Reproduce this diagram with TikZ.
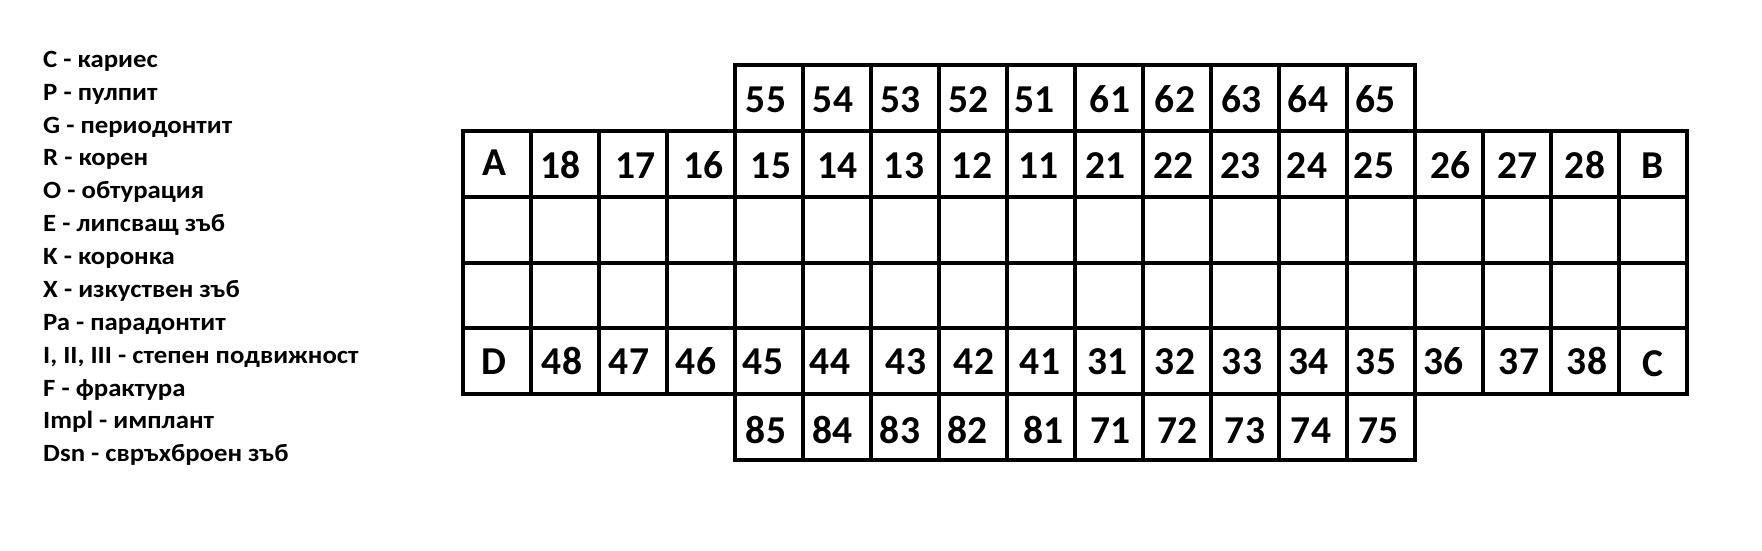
\documentclass[tikz,border=0pt]{standalone}
\usepackage{fontspec}
\setmainfont{Carlito}
\begin{document}
\begin{tikzpicture}[x=1pt,y=-1pt,
  cell/.style={draw=black, line width=4pt},
  num/.style={font=\fontsize{39.5}{40}\selectfont\bfseries, inner sep=0pt, anchor=base},
  leg/.style={font=\fontsize{24.8}{26}\selectfont\bfseries, inner sep=0pt, anchor=base west}]
\useasboundingbox (0,0) rectangle (1762,550);
% legend
\foreach \i/\t in {0/{C - кариес},1/{P - пулпит},2/{G - периодонтит},3/{R - корен},
  4/{O - обтурация},5/{E - липсващ зъб},6/{K - коронка},7/{X - изкуствен зъб},
  8/{Pa - парадонтит},9/{I, II, III - степен подвижност},10/{F - фрактура},
  11/{Impl - имплант},12/{Dsn - свръхброен зъб}}
  \node[leg] (leg\i) at (43, {67.3+32.87*\i}) {\scalebox{1.08}[1]{\t}};
% cells
\foreach \k in {4,...,13} \draw[cell] ({463+68*\k}, 65) rectangle ++(68,65.833);
\foreach \r in {1,...,4}
  \foreach \k in {0,...,17} \draw[cell] ({463+68*\k}, {65+65.833*\r}) rectangle ++(68,65.833);
\foreach \k in {4,...,13} \draw[cell] ({463+68*\k}, {65+65.833*5}) rectangle ++(68,65.833);
% upper row
\foreach \k/\t/\o in {4/55/-3,5/54/-4,6/53/-4.5,7/52/-4.7,8/51/-6.5,9/61/1,10/62/-2,11/63/-3.3,12/64/-5,13/65/-5.5}
  \node[num] (n\t) at ({463+68*\k+34+\o}, 112.7) {\t};
% row 1
\node[num] (nA) at ({463+34-3}, 175) {A};
\foreach \k/\t/\o in {1/18/-4.5,2/17/2.7,3/16/2.5,4/15/2,5/14/0.7,6/13/-1,7/12/-1,8/11/-2.5,9/21/-3.5,10/22/-3.3,11/23/-4.7,12/24/-6,13/25/-7,14/26/1.5,15/27/0.5,16/28/0}
  \node[num] (n\t) at ({463+68*\k+34+\o}, 178.7) {\t};
\node[num] (nB) at ({463+68*17+34}, 178.3) {B};
% row 4
\node[num] (nD) at ({463+34-3}, 374) {D};
\foreach \k/\t/\o in {1/48/-3,2/47/-4,3/46/-5,4/45/-6,5/44/-7,6/43/1,7/42/1,8/41/-1,9/31/-1.5,10/32/-2,11/33/-3,12/34/-4.3,13/35/-5,14/36/-5.7,15/37/2,16/38/2}
  \node[num] (n\t) at ({463+68*\k+34+\o}, 374.5) {\t};
\node[num] (nC) at ({463+68*17+34}, 376) {C};
% lower row
\foreach \k/\t/\o in {4/85/-3,5/84/-4.5,6/83/-5,7/82/-5.2,8/81/2.3,9/71/1.5,10/72/0.5,11/73/0,12/74/-2,13/75/-2.7}
  \node[num] (n\t) at ({463+68*\k+34+\o}, 443) {\t};
\end{tikzpicture}
\end{document}
